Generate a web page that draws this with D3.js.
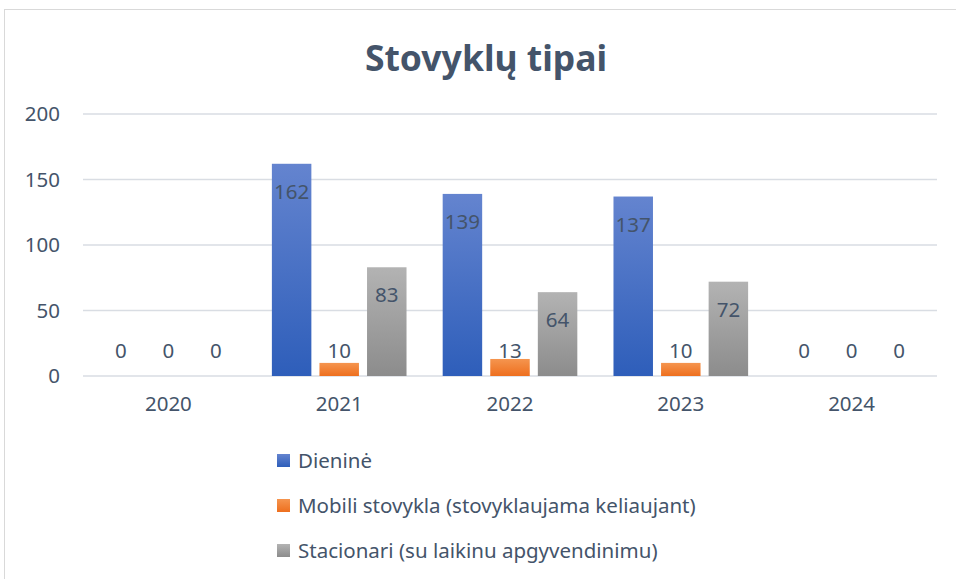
<!DOCTYPE html>
<meta charset="utf-8">
<style>
body,html{
  margin: 0;
  padding: 0;
  background: #fff;
}
svg text{
  font-family: "Noto Sans", Lato, sans-serif;
  fill: #44546A;
}
.grid line{
  stroke: #D9DDE3;
  stroke-width: 1.3;
}
</style>
<svg width="956" height="579"></svg>
<script src="https://d3js.org/d3.v7.min.js"></script>
<script>

var years = ["2020", "2021", "2022", "2023", "2024"]
var seriesNames = ["Dieninė", "Mobili stovykla (stovyklaujama keliaujant)", "Stacionari (su laikinu apgyvendinimu)"]
var dienine = [0, 162, 139, 137, 0]
var mobili = [0, 10, 13, 10, 0]
var stacionari = [0, 83, 64, 72, 0]
var yTicks = [0, 50, 100, 150, 200]

var svg = d3.select("svg"),
    width = +svg.attr("width"),
    height = +svg.attr("height")

var margin = {left: 83, right: 19, top: 114, bottom: 203}
var fontSize = "20.5px"

var series = [dienine, mobili, stacionari]
var colors = [["#6484CF", "#2E5EBA"], ["#F5954F", "#EE6F1E"], ["#B3B3B3", "#8C8C8C"]]

// gradients
var defs = svg.append("defs")
colors.forEach(function(c, i) {
  var g = defs.append("linearGradient").attr("id", "grad" + i)
      .attr("x1", 0).attr("y1", 0).attr("x2", 0).attr("y2", 1)
  g.append("stop").attr("offset", "0%").attr("stop-color", c[0])
  g.append("stop").attr("offset", "100%").attr("stop-color", c[1])
})

// chart frame
svg.append("rect")
    .attr("x", 4.5).attr("y", 9.5)
    .attr("width", 1000).attr("height", 700)
    .attr("fill", "none").attr("stroke", "#D9D9D9")

var x0 = d3.scaleBand()
    .domain(years)
    .range([margin.left, width - margin.right])

var x1 = d3.scaleBand()
    .domain(d3.range(series.length))
    .range([0, x0.bandwidth()])
    .paddingInner(0.17)
    .paddingOuter(0.38)

var y = d3.scaleLinear()
    .domain([0, 200])
    .range([height - margin.bottom, margin.top])

// title
svg.append("text")
    .attr("x", 486).attr("y", 71)
    .attr("text-anchor", "middle")
    .style("font-size", "35.5px")
    .style("font-weight", "bold")
    .text("Stovyklų tipai")

// gridlines
svg.append("g").attr("class", "grid")
  .selectAll("line")
  .data(yTicks)
  .enter().append("line")
    .attr("x1", margin.left).attr("x2", width - margin.right)
    .attr("y1", function(d) { return y(d) }).attr("y2", function(d) { return y(d) })

// y axis labels
var yAxis = d3.axisLeft(y).tickValues(yTicks).tickSize(0).tickPadding(0)
svg.append("g")
    .attr("transform", "translate(60,0)")
    .call(yAxis)
    .call(function(g) { g.select(".domain").remove() })
    .selectAll("text")
      .style("font-size", fontSize)
      .style("font-family", "'Noto Sans', sans-serif")
      .attr("fill", "#44546A")

// x axis labels
var xAxis = d3.axisBottom(x0).tickSize(0).tickPadding(0)
svg.append("g")
    .attr("transform", "translate(0," + (y(0) + 20) + ")")
    .call(xAxis)
    .call(function(g) { g.select(".domain").remove() })
    .selectAll("text")
      .style("font-size", fontSize)
      .style("font-family", "'Noto Sans', sans-serif")
      .attr("fill", "#44546A")

// bars
var groups = svg.append("g")
  .selectAll("g")
  .data(years)
  .enter().append("g")
    .attr("transform", function(d) { return "translate(" + x0(d) + ",0)" })

groups.selectAll("rect")
  .data(function(d, i) { return series.map(function(s, k) { return {k: k, v: s[i]} }) })
  .enter().append("rect")
    .attr("x", function(d) { return x1(d.k) })
    .attr("width", x1.bandwidth())
    .attr("y", function(d) { return y(d.v) })
    .attr("height", function(d) { return y(0) - y(d.v) })
    .attr("fill", function(d) { return "url(#grad" + d.k + ")" })

groups.selectAll("text.lbl")
  .data(function(d, i) { return series.map(function(s, k) { return {k: k, v: s[i]} }) })
  .enter().append("text")
    .attr("class", "lbl")
    .attr("x", function(d) { return x1(d.k) + x1.bandwidth() / 2 })
    .attr("y", function(d) {
      var h = y(0) - y(d.v)
      return h > 45 ? y(d.v) + 28 : y(0) - 25
    })
    .attr("dy", "0.35em")
    .attr("text-anchor", "middle")
    .style("font-size", fontSize)
    .text(function(d) { return d.v })

// legend
var legend = svg.append("g")
  .selectAll("g")
  .data(seriesNames)
  .enter().append("g")
    .attr("transform", function(d, i) { return "translate(277," + (461 + i * 45) + ")" })

legend.append("rect")
    .attr("x", 0).attr("y", -7)
    .attr("width", 13).attr("height", 13)
    .attr("fill", function(d, i) { return "url(#grad" + i + ")" })

legend.append("text")
    .attr("x", 21).attr("y", 0)
    .attr("dy", "0.35em")
    .style("font-size", fontSize)
    .text(function(d) { return d })

</script>
